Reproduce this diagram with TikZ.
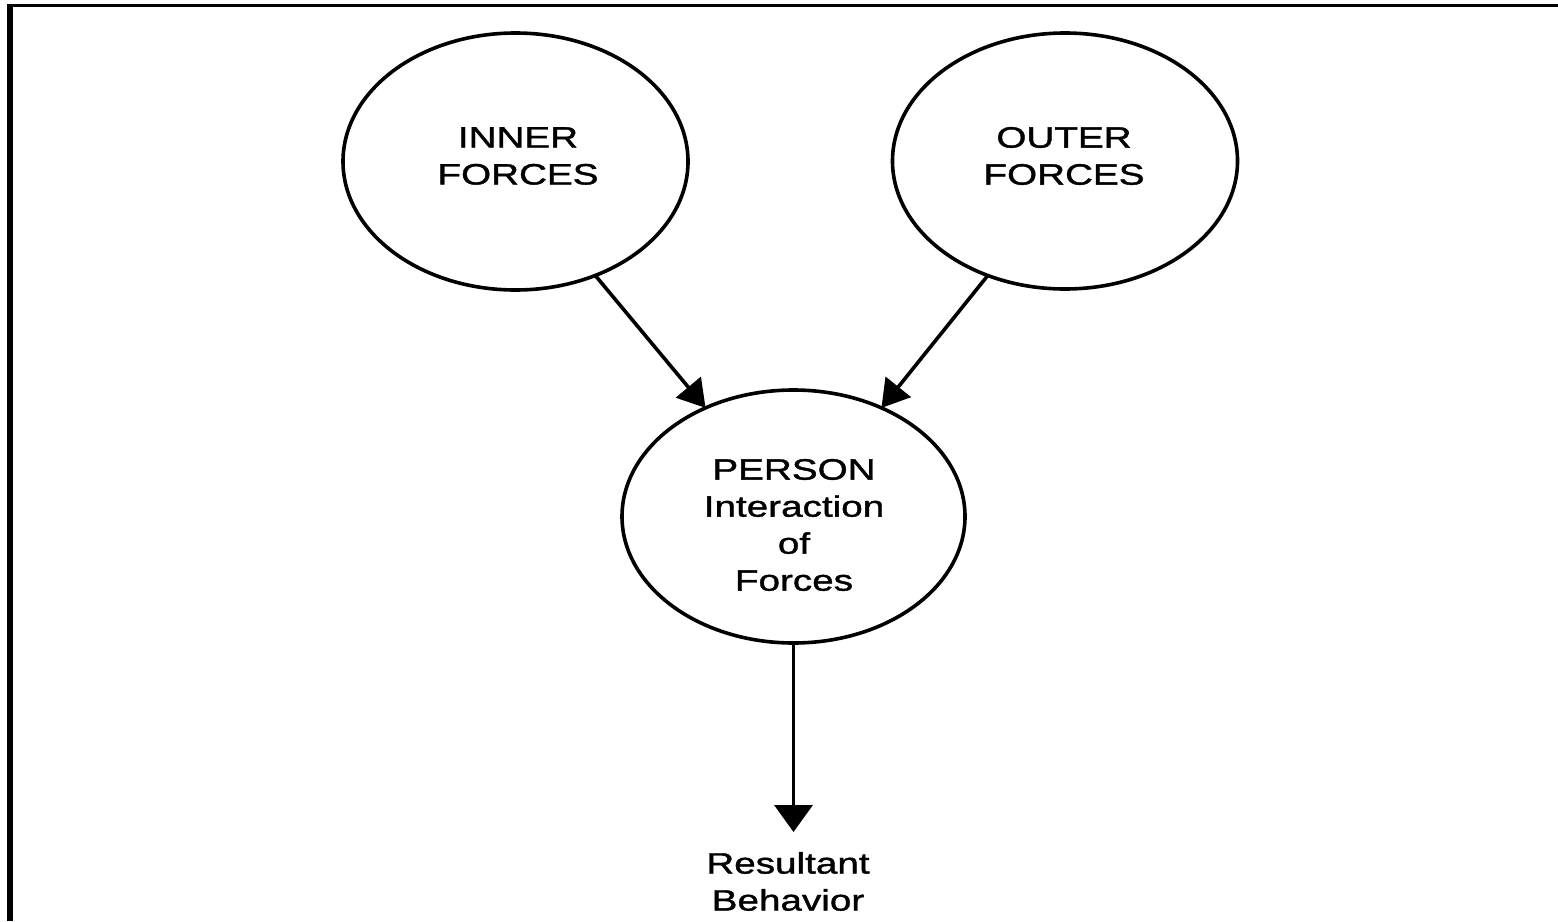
\documentclass[tikz,border=0pt]{standalone}
\usepackage{fontspec}
\newfontfamily\labfont[FakeStretch=1.31,FakeBold=1.3]{Liberation Sans}
\usetikzlibrary{shapes.geometric,arrows.meta}
\tikzset{
  oval/.style={draw=black, line width=3.6pt, ellipse, inner sep=0pt, outer sep=0pt},
  lab/.style={align=center, inner sep=0pt, font=\labfont\fontsize{29.5}{37}\selectfont},
  conn/.style={line width=3.6pt, -{Triangle[length=27pt,width=32pt]}},
  connd/.style={line width=3.6pt, -{Triangle[length=27pt,width=38pt]}}
}
\begin{document}
\begin{tikzpicture}[x=1pt,y=-1pt]
\useasboundingbox (0,0) rectangle (1558,921);
% frame
\fill[black] (7,3.8) rectangle (1558,6.8);
\fill[black] (7,3.8) rectangle (13,921);
% ellipses
\node[oval, minimum width=345pt, minimum height=257pt] (inner) at (515.5,161.5) {};
\node[oval, minimum width=345pt, minimum height=256pt] (outer) at (1065,161) {};
\node[oval, minimum width=343pt, minimum height=253pt] (person) at (793.5,516.5) {};
% texts
\node[lab] (innertxt) at (518,156) {INNER\\FORCES};
\node[lab] (outertxt) at (1064,156) {OUTER\\FORCES};
\node[lab] (persontxt) at (794,525) {PERSON\\Interaction\\of\\Forces};
\node[lab] (result) at (788,881.5) {Resultant\\Behavior};
\coordinate (rtip) at (793.5,832);
% connectors
\draw[conn] (inner.-55.5) -- (person.129.9);
\draw[conn] (outer.236.9) -- (person.51);
\draw[connd] (person.south) -- (rtip);
\end{tikzpicture}
\end{document}
